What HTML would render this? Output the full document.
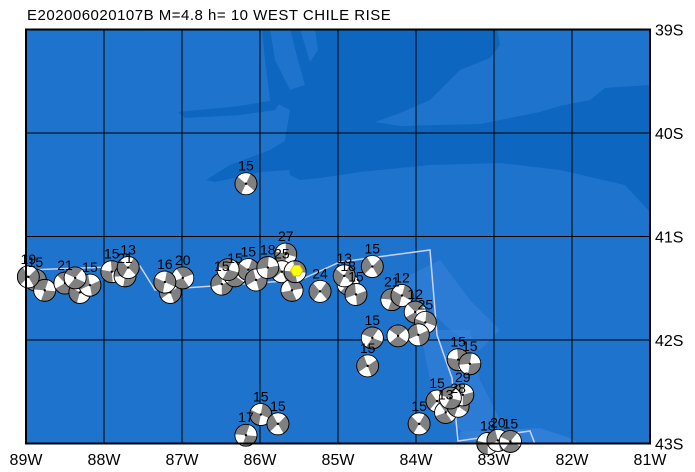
<!DOCTYPE html>
<html><head><meta charset="utf-8"><style>
body{margin:0;background:#fff;}
svg{display:block;font-family:"Liberation Sans",sans-serif;}
</style></head><body>
<svg id="map" width="695" height="472" viewBox="0 0 695 472">
<text x="27" y="20" font-size="15" letter-spacing="0.5">E202006020107B  M=4.8  h= 10 WEST CHILE RISE</text>
<clipPath id="clip"><rect x="26" y="29.5" width="624" height="414"/></clipPath>
<g clip-path="url(#clip)">
<rect x="26" y="29.5" width="624" height="414" fill="#1e73cd"/>
<path d="M262,29 L650,29 L650,212 L625,185 L560,170 L500,163 L430,165 L360,172 L320,178 L300,180 L290,175 L285,140 L290,110 L270,100 L265,60Z" fill="#0d66bf"/>
<path d="M497,29 L650,29 L650,85 L605,88 L590,100 L560,106 L540,112 L480,124 L400,126 L375,122 L400,113 L430,100 L442,88 L460,70 L490,58 L500,45Z" fill="#1e73cd"/>
<path d="M270,29 L290,29 L298,60 L305,85 L290,90 L275,60Z" fill="#1e73cd"/>
<path d="M300,29 L315,29 L318,50 L310,62Z" fill="#1e73cd"/>
<path d="M178,112 L240,106 L275,100 L282,100 L275,110 L240,115 L185,118Z" fill="#0d66bf"/>
<path d="M206,180 L230,165 L270,150 L290,138 L290,170 L260,172 L215,182Z" fill="#0d66bf"/>
<path d="M400,280 L440,260 L470,300 L500,330 L480,350 L450,330 Z" fill="#3a86dd" opacity="0.5"/>
<path d="M420,330 L470,330 L480,380 L500,420 L470,440 L450,420 L430,380Z" fill="#3a86dd" opacity="0.5"/>
<path d="M460,432 L540,428 L570,438 L580,444 L460,444Z" fill="#3a86dd" opacity="0.6"/>
</g>
<g id="grid" stroke="#000" stroke-width="1"></g>
<path d="M26,270 L140,266 L155,290 L300,280 L340,262 L430,250 L437,335 L452,378 L458,441 L530,431 L535,444" fill="none" stroke="#c8d2f4" stroke-width="1.5"/>
<g id="events"></g>
<rect x="26" y="29.5" width="624" height="414" fill="none" stroke="#000" stroke-width="2"/>
<g id="labels" font-size="16"></g>
</svg>
<script>
const lonTicks=[-89,-88,-87,-86,-85,-84,-83,-82,-81];
const latTicks=[-39,-40,-41,-42,-43];
const evLon=[-88.88,-88.76,-88.97,-88.50,-88.31,-88.18,-88.37,-87.90,-87.73,-87.69,-87.15,-86.99,-87.22,-86.49,-86.32,-86.15,-86.05,-86.41,-85.67,-85.72,-85.59,-85.55,-85.90,-85.23,-84.87,-84.77,-84.92,-84.56,-84.31,-84.18,-84.01,-83.88,-83.97,-84.56,-84.62,-84.23,-83.46,-83.31,-83.73,-83.62,-83.46,-83.40,-83.56,-83.96,-83.08,-82.95,-82.79,-85.99,-85.77,-86.18,-86.18];
const evLat=[-41.42,-41.52,-41.39,-41.45,-41.54,-41.47,-41.40,-41.34,-41.38,-41.30,-41.54,-41.40,-41.44,-41.46,-41.38,-41.32,-41.42,-41.32,-41.17,-41.34,-41.52,-41.34,-41.30,-41.53,-41.46,-41.56,-41.38,-41.29,-41.61,-41.57,-41.73,-41.83,-41.95,-41.98,-42.25,-41.96,-42.19,-42.23,-42.59,-42.70,-42.64,-42.53,-42.56,-42.81,-43.00,-42.97,-42.98,-42.72,-42.81,-42.92,-40.49];
const evDepth=["15","15","19","21","15","15","17","15","21","13","15","20","16","15","15","15","15","16","27","25","15","16","18","24","18","15","13","15","21","12","12","25","15","15","15","15","15","15","15","13","28","29","15","15","18","20","15","15","15","17","15"];
const evStrike=[20,110,60,150,30,80,130,10,100,45,70,160,25,90,140,35,75,120,15,65,170,5,95,50,135,85,40,60,110,30,150,20,80,125,70,140,10,100,55,160,35,90,120,45,15,75,130,25,60,110,40];
const showLabel=[1,0,1,1,0,1,0,1,1,1,0,1,1,1,1,1,0,0,1,1,0,0,1,1,1,1,1,1,1,1,1,1,0,1,1,0,1,1,1,1,1,1,0,1,1,1,1,1,1,1,1];
const mainLon=-85.53, mainLat=-41.33;

const X=lon=>26+(lon+89)*78, Y=lat=>29.5+(-39-lat)*103.5;
const NS='http://www.w3.org/2000/svg';
function mk(t,a,p){const e=document.createElementNS(NS,t);for(const k in a)e.setAttribute(k,a[k]);p.appendChild(e);return e;}
const grid=document.getElementById('grid'),labels=document.getElementById('labels'),ev=document.getElementById('events');
lonTicks.forEach(v=>{
 const l=mk('line',{x1:X(v),x2:X(v),y1:29.5,y2:443.5},grid);
 
 
 const t=mk('text',{x:X(v),y:465,'text-anchor':'middle'},labels);t.textContent=(-v)+'W';
 
 
});
latTicks.forEach(v=>{
 const l=mk('line',{x1:26,x2:650,y1:Y(v),y2:Y(v)},grid);
 
 
 const t=mk('text',{x:655,y:Y(v)+6},labels);t.textContent=(-v)+'S';
 
 
});
const r=11;
function pt(cx,cy,a){const rad=a*Math.PI/180;return [cx+r*Math.cos(rad),cy+r*Math.sin(rad)];}
evLon.forEach((lo,i)=>{
 const cx=X(lo),cy=Y(evLat[i]);
 const g=mk('g',{},ev);
 
 
 mk('circle',{cx,cy,r,fill:'#808080',stroke:'#000','stroke-width':0.8},g);
 const s=evStrike[i];
 [0,180].forEach(o=>{
  const a=pt(cx,cy,s+o),b=pt(cx,cy,s+o+75);
  mk('path',{d:`M${cx},${cy} L${a[0]},${a[1]} A${r},${r} 0 0 1 ${b[0]},${b[1]} Z`,fill:'#fff'},g);
 });
 mk('circle',{cx,cy,r,fill:'none',stroke:'#000','stroke-width':0.8},g);
 mk('circle',{cx,cy,r:1.2,fill:'#000'},g);
 if(showLabel[i]){
  const t=mk('text',{x:cx,y:cy-13,'text-anchor':'middle','font-size':14},labels);
  t.textContent=evDepth[i];
  
  
 }
});
const mx=X(mainLon),my=Y(mainLat);
let d='';for(let k=0;k<6;k++){const a=k*Math.PI/3;d+=(k?'L':'M')+(mx+6*Math.cos(a))+','+(my+6*Math.sin(a));}
const st=mk('path',{d:d+'Z',fill:'#ffff00',stroke:'#e0d000','stroke-width':1},ev);


</script>
</body></html>
